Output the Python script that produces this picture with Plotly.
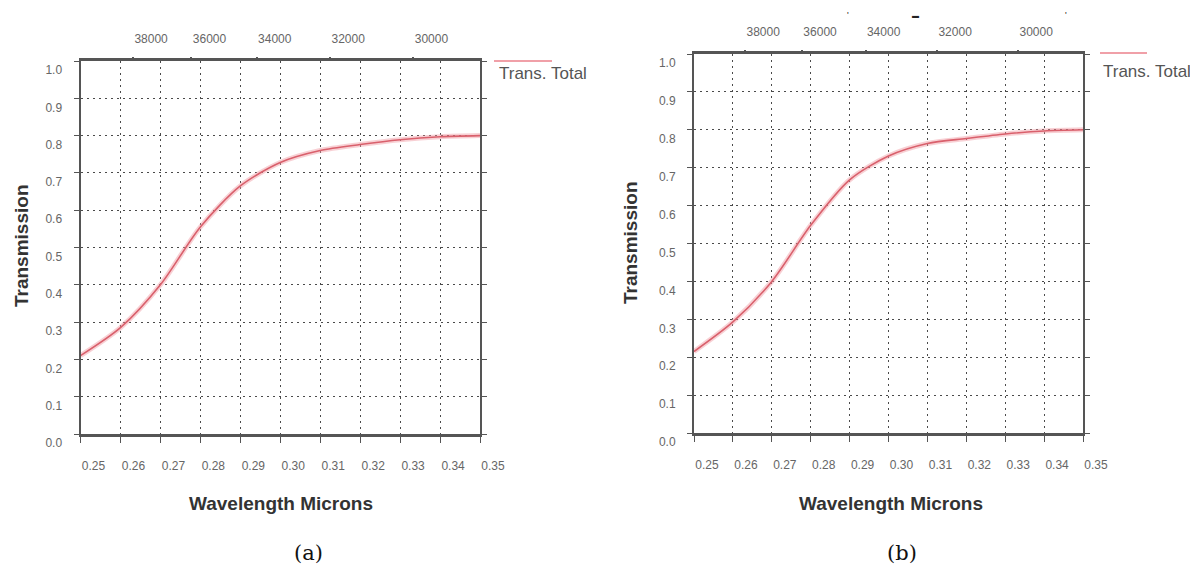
import plotly.graph_objects as go

# ---------------- data ----------------
wavelength = [0.25, 0.26, 0.27, 0.28, 0.29, 0.30, 0.31, 0.32, 0.33, 0.34, 0.35]
trans_a = [0.210, 0.285, 0.400, 0.555, 0.665, 0.728, 0.760, 0.776, 0.789, 0.797, 0.800]
trans_b = [0.215, 0.293, 0.400, 0.548, 0.668, 0.731, 0.764, 0.777, 0.789, 0.797, 0.800]

x_ticks = [0.25, 0.26, 0.27, 0.28, 0.29, 0.30, 0.31, 0.32, 0.33, 0.34, 0.35]
x_ticklabels = ["0.25", "0.26", "0.27", "0.28", "0.29", "0.30", "0.31", "0.32", "0.33", "0.34", "0.35"]
y_ticks = [0.0, 0.1, 0.2, 0.3, 0.4, 0.5, 0.6, 0.7, 0.8, 0.9, 1.0]
y_ticklabels = ["0.0", "0.1", "0.2", "0.3", "0.4", "0.5", "0.6", "0.7", "0.8", "0.9", "1.0"]
wavenumber_ticks = [38000, 36000, 34000, 32000, 30000]
wavenumber_labels = ["38000", "36000", "34000", "32000", "30000"]

legend_name = "Trans. Total"
x_title = "Wavelength Microns"
y_title = "Transmission"
panel_labels = ["(a)", "(b)"]

# ---------------- layout helpers ----------------
W, H = 1198, 568
PAGE_OFFSET = 8  # the page's body margin shifts the figure by this much


def px(x):
    return (x - PAGE_OFFSET) / W


def py(y):
    return 1 - (y - PAGE_OFFSET) / H


panels = [
    dict(values=trans_a, xb="x", xt="x2", ya="y", xdom=(80.5, 480), ydom=(61, 434),
         ytitle=(21, 246), xtitle=(281, 503), label=(308, 553),
         leg_line=(494, 552, 61), leg_text=(497, 74)),
    dict(values=trans_b, xb="x3", xt="x4", ya="y2", xdom=(694, 1083), ydom=(54, 433),
         ytitle=(630, 243), xtitle=(891, 503), label=(902, 553),
         leg_line=(1100, 1147, 53), leg_text=(1101, 72)),
]

AXIS_COLOR = "#555555"
GRID_COLOR = "#4a4a4a"
TICK_FONT = dict(family="Liberation Sans, Arial, sans-serif", size=12, color="#666666")
TITLE_FONT = dict(family="Liberation Sans, Arial, sans-serif", size=19, color="#333333")

fig = go.Figure()
annotations = []
shapes = []
layout = dict(
    width=W, height=H, autosize=False,
    margin=dict(l=0, r=0, t=0, b=0, pad=0, autoexpand=False),
    paper_bgcolor="white", plot_bgcolor="white", showlegend=False,
)

top_vals = [1e4 / k for k in wavenumber_ticks]

for i, p in enumerate(panels):
    # halo + line to mimic the soft red curve
    fig.add_trace(go.Scatter(
        x=wavelength, y=p["values"], mode="lines", xaxis=p["xb"], yaxis=p["ya"],
        line=dict(color="rgba(240,150,160,0.45)", width=5, shape="spline", smoothing=0.8),
        hoverinfo="skip", name=legend_name))
    fig.add_trace(go.Scatter(
        x=wavelength, y=p["values"], mode="lines", xaxis=p["xb"], yaxis=p["ya"],
        line=dict(color="#d9606c", width=1.6, shape="spline", smoothing=0.8),
        name=legend_name))
    # invisible trace to activate the top (wavenumber) axis
    fig.add_trace(go.Scatter(
        x=wavelength, y=p["values"], mode="lines", xaxis=p["xt"], yaxis=p["ya"],
        opacity=0, hoverinfo="skip", line=dict(width=0), name=""))

    xb_key = "xaxis" if p["xb"] == "x" else "xaxis" + p["xb"][1:]
    xt_key = "xaxis" + p["xt"][1:]
    ya_key = "yaxis" if p["ya"] == "y" else "yaxis" + p["ya"][1:]

    layout[xb_key] = dict(
        domain=[px(p["xdom"][0]), px(p["xdom"][1])], anchor=p["ya"],
        range=[wavelength[0], wavelength[-1]], automargin=False,
        tickvals=x_ticks, ticktext=x_ticklabels, tickfont=TICK_FONT,
        ticks="outside", ticklen=6, tickcolor=AXIS_COLOR, tickwidth=1,
        ticklabelshift=13, ticklabelstandoff=13,
        showline=True, linecolor=AXIS_COLOR, linewidth=2.5, mirror=True,
        showgrid=True, gridcolor=GRID_COLOR, gridwidth=1, griddash="2px,4px",
        zeroline=False, fixedrange=True,
    )
    layout[xt_key] = dict(
        overlaying=p["xb"], side="top", anchor=p["ya"],
        range=[wavelength[0], wavelength[-1]], automargin=False,
        tickvals=top_vals, ticktext=wavenumber_labels, tickfont=TICK_FONT,
        ticks="outside", ticklen=3, tickcolor=AXIS_COLOR, tickwidth=2,
        ticklabelshift=18, ticklabelstandoff=9,
        showline=False, showgrid=False, zeroline=False, fixedrange=True,
    )
    layout[ya_key] = dict(
        domain=[py(p["ydom"][1]), py(p["ydom"][0])], anchor=p["xb"],
        range=[y_ticks[0], y_ticks[-1]], automargin=False,
        tickvals=y_ticks, ticktext=y_ticklabels, tickfont=TICK_FONT,
        ticks="outside", ticklen=5, tickcolor=AXIS_COLOR, tickwidth=1,
        ticklabelshift=9, ticklabelstandoff=9,
        showline=True, linecolor=AXIS_COLOR, linewidth=2, mirror="ticks",
        showgrid=True, gridcolor=GRID_COLOR, gridwidth=1, griddash="2px,4px",
        zeroline=False, fixedrange=True,
    )

    annotations.append(dict(
        text=f"<b>{y_title}</b>", x=px(p["ytitle"][0]), y=py(p["ytitle"][1]),
        xref="paper", yref="paper", showarrow=False, textangle=-90, font=TITLE_FONT,
        xanchor="center", yanchor="middle"))
    annotations.append(dict(
        text=f"<b>{x_title}</b>", x=px(p["xtitle"][0]), y=py(p["xtitle"][1]),
        xref="paper", yref="paper", showarrow=False, font=TITLE_FONT,
        xanchor="center", yanchor="middle"))
    annotations.append(dict(
        text=panel_labels[i], x=px(p["label"][0]), y=py(p["label"][1]),
        xref="paper", yref="paper", showarrow=False,
        font=dict(family="DejaVu Serif, serif", size=21, color="#111111"),
        xanchor="center", yanchor="middle"))
    annotations.append(dict(
        text=legend_name, x=px(p["leg_text"][0]), y=py(p["leg_text"][1]),
        xref="paper", yref="paper", showarrow=False,
        font=dict(family="Liberation Sans, Arial, sans-serif", size=17, color="#555555"),
        xanchor="left", yanchor="middle"))
    x0, x1, yl = p["leg_line"]
    shapes.append(dict(type="line", xref="paper", yref="paper",
                       x0=px(x0), x1=px(x1), y0=py(yl), y1=py(yl),
                       line=dict(color="#f0a0a8", width=2)))

# small stray marks above panel (b) in the original image
for (sx, sy, txt, sz) in [(848, 15, "'", 9), (915, 15, "▬", 7), (1066, 15, "'", 9)]:
    annotations.append(dict(
        text=txt, x=px(sx), y=py(sy), xref="paper", yref="paper", showarrow=False,
        font=dict(family="Liberation Sans, Arial, sans-serif", size=sz, color="#222222"),
        xanchor="center", yanchor="middle"))

layout["annotations"] = annotations
layout["shapes"] = shapes
fig.update_layout(**layout)

fig.write_html("out.html")
